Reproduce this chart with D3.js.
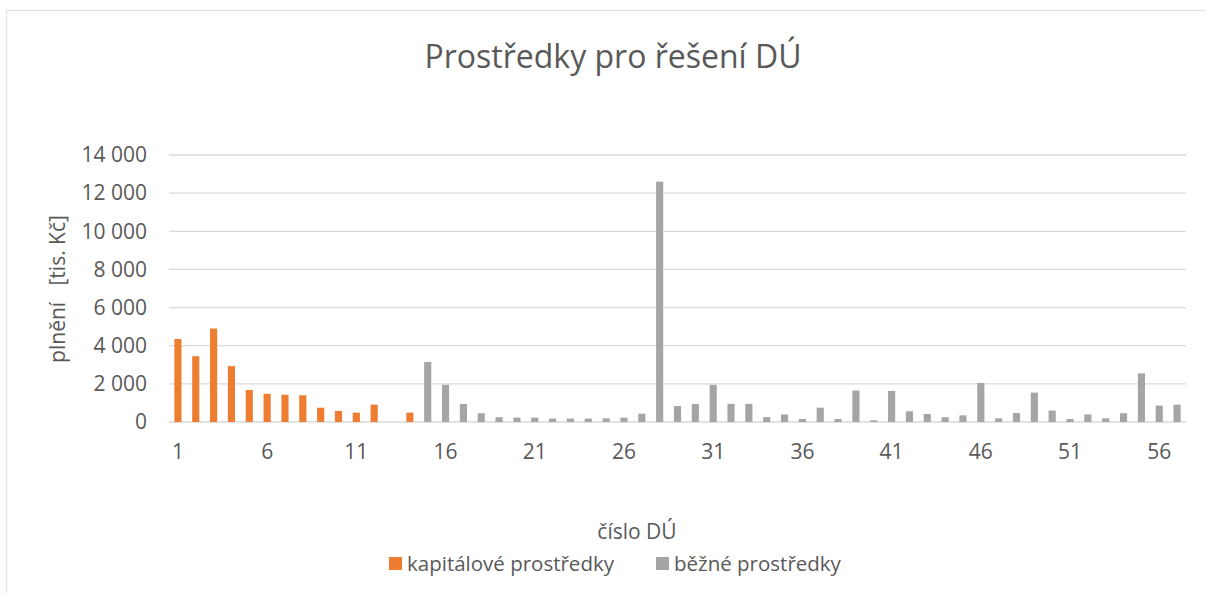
<!DOCTYPE html>
<html><head><meta charset="utf-8">
<script src="https://cdn.jsdelivr.net/npm/d3@7"></script>
<style>
html,body{margin:0;padding:0;background:#fff;}
svg{display:block;}
text{font-family:"Open Sans",sans-serif;fill:#595959;}
</style></head>
<body>
<svg id="chart" width="1206" height="593"></svg>
<script>
const categories = [1,2,3,4,5,6,7,8,9,10,11,12,13,14,15,16,17,18,19,20,21,22,23,24,25,26,27,28,29,30,31,32,33,34,35,36,37,38,39,40,41,42,43,44,45,46,47,48,49,50,51,52,53,54,55,56,57];
const kapitalove = [4350,3450,4900,2930,1680,1480,1430,1400,750,580,490,910,null,490,
  null,null,null,null,null,null,null,null,null,null,null,null,null,null,null,null,null,null,null,null,null,null,null,null,null,null,null,null,null,null,null,null,null,null,null,null,null,null,null,null,null,null,null];
const bezne = [null,null,null,null,null,null,null,null,null,null,null,null,null,null,
  3150,1950,950,460,250,230,230,180,180,180,190,230,440,12600,840,950,1950,950,950,260,400,160,750,160,1650,90,1630,560,420,250,350,2050,190,470,1540,600,160,400,190,460,2550,860,910];
const yTicks = [0,2000,4000,6000,8000,10000,12000,14000];
const xTickLabels = [1,6,11,16,21,26,31,36,41,46,51,56];
const seriesNames = ["kapitálové prostředky","běžné prostředky"];
const colors = ["#ED7D31","#A5A5A5"];
const title = "Prostředky pro řešení DÚ";
const yTitle = "plnění   [tis. Kč]";
const xTitle = "číslo DÚ";

const svg = d3.select("#chart");
const pL = 169, pR = 1186, pT = 155, pB = 422;

// chart frame
svg.append("rect").attr("x",6.5).attr("y",10.5).attr("width",1240).attr("height",640)
  .attr("fill","none").attr("stroke","#e3e3e3").attr("stroke-width",1.3);

const x = d3.scaleBand().domain(categories).range([pL,pR]).paddingInner(0.6).paddingOuter(0.3);
const y = d3.scaleLinear().domain([0,14000]).range([pB,pT]);

// gridlines
svg.append("g").selectAll("line").data(yTicks).join("line")
  .attr("x1",pL).attr("x2",pR)
  .attr("y1",d=>y(d)).attr("y2",d=>y(d))
  .attr("stroke","#d9d9d9").attr("stroke-width",1.3);

// y axis labels
const fmt = d => d3.format(",")(d).replace(/,/g," ");
const yAxis = d3.axisLeft(y).tickValues(yTicks).tickFormat(fmt).tickSize(0).tickPadding(22);
const gy = svg.append("g").attr("transform",`translate(${pL},0)`).call(yAxis);
gy.select(".domain").remove();
gy.selectAll("text").style("font-family","'Open Sans',sans-serif").style("font-size","21px").attr("fill","#595959");

// x axis labels
const xAxis = d3.axisBottom(x).tickValues(xTickLabels).tickSize(0).tickPadding(22);
const gx = svg.append("g").attr("transform",`translate(0,${pB})`).call(xAxis);
gx.select(".domain").remove();
gx.selectAll("text").style("font-family","'Open Sans',sans-serif").style("font-size","21px").attr("fill","#595959");

// bars
[kapitalove,bezne].forEach((arr,si)=>{
  svg.append("g").selectAll("rect").data(categories.map((c,i)=>({c,v:arr[i]})).filter(d=>d.v!=null)).join("rect")
    .attr("x",d=>x(d.c)).attr("width",x.bandwidth())
    .attr("y",d=>y(d.v)).attr("height",d=>y(0)-y(d.v))
    .attr("fill",colors[si]);
});

// title
svg.append("text").attr("x",613).attr("y",68).attr("text-anchor","middle")
  .style("font-size","32px").text(title);

// y title
svg.append("text").attr("transform","translate(65,289) rotate(-90)").attr("text-anchor","middle")
  .style("font-size","21px").style("white-space","pre").attr("xml:space","preserve").text(yTitle);

// x title
svg.append("text").attr("x",637).attr("y",539).attr("text-anchor","middle")
  .style("font-size","21px").text(xTitle);

// legend
const legX = [389,656];
seriesNames.forEach((n,i)=>{
  svg.append("rect").attr("x",legX[i]).attr("y",557).attr("width",13).attr("height",13).attr("fill",colors[i]);
  svg.append("text").attr("x",legX[i]+18).attr("y",571).style("font-size","20.5px").text(n);
});
</script>
</body></html>
